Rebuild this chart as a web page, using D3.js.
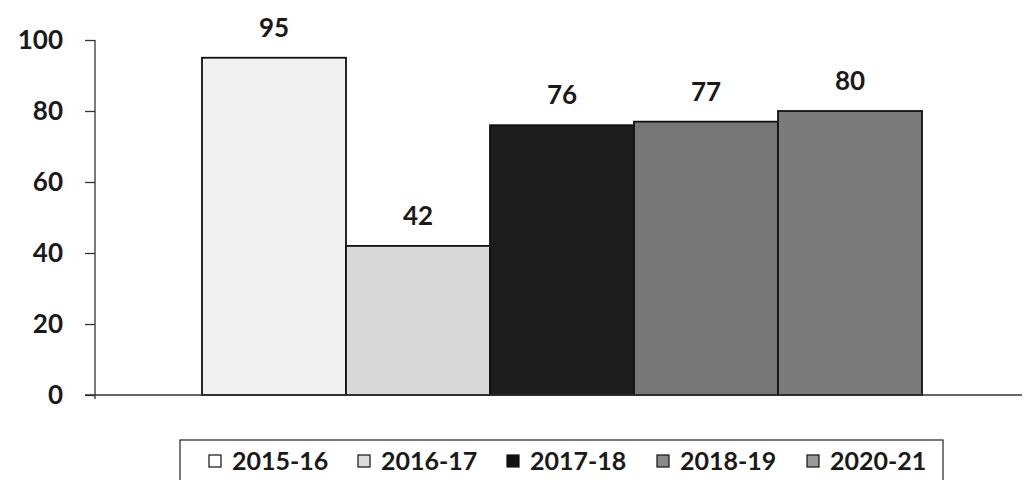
<!DOCTYPE html>
<html>
<head>
<meta charset="utf-8">
<script src="https://cdn.jsdelivr.net/npm/d3@7"></script>
<style>
  body { margin: 0; background: #fff; }
  text { font-family: Lato, "Open Sans", sans-serif; font-weight: bold; fill: #1a1a1a; }
</style>
</head>
<body>
<svg id="chart" width="1026" height="480"></svg>
<script>
// data
var years = ["2015-16", "2016-17", "2017-18", "2018-19", "2020-21"];
var values = [95, 42, 76, 77, 80];
var yTicks = [0, 20, 40, 60, 80, 100];
var fills = ["#f1f1f1", "#d9d9d9", "#1d1d1d", "#767676", "#7b7b7b"];
var legendFills = ["#ffffff", "#dcdcdc", "#111111", "#8a8a8a", "#9a9a9a"];

var svg = d3.select("#chart");

// plot area (window.top is reserved, so use a margin object)
var plot = {left: 95, right: 1022, top: 40, bottom: 395};

var y = d3.scaleLinear().domain([0, 100]).range([plot.bottom, plot.top]);

// single group of five bars, centred in the plot
var x = d3.scaleBand().domain(years).range([202, 922]).padding(0);

// y axis
var yaxis = d3.axisLeft(y).tickValues(yTicks).tickSize(10).tickPadding(22);
var gy = svg.append("g")
  .attr("transform", "translate(" + plot.left + ",0)")
  .call(yaxis);
gy.select(".domain").attr("stroke", "#333").attr("stroke-width", 1.3)
  .attr("d", "M0," + plot.top + "V" + (plot.bottom + 4));
gy.selectAll(".tick line").attr("stroke", "#333").attr("stroke-width", 1.3);
gy.selectAll(".tick text")
  .style("font-size", "26px")
  .attr("fill", "#1a1a1a");

// bars
svg.append("g").selectAll("rect")
  .data(values)
  .join("rect")
  .attr("x", function(d, i) { return x(years[i]); })
  .attr("y", function(d) { return y(d); })
  .attr("width", x.bandwidth())
  .attr("height", function(d) { return y(0) - y(d); })
  .attr("fill", function(d, i) { return fills[i]; })
  .attr("stroke", "#111")
  .attr("stroke-width", 1.8);

// x axis baseline
svg.append("line")
  .attr("x1", plot.left - 10).attr("x2", plot.right)
  .attr("y1", y(0)).attr("y2", y(0))
  .attr("stroke", "#333").attr("stroke-width", 1.5);

// value labels
svg.append("g").selectAll("text")
  .data(values)
  .join("text")
  .attr("x", function(d, i) { return x(years[i]) + x.bandwidth() / 2; })
  .attr("y", function(d) { return y(d) - 21; })
  .attr("text-anchor", "middle")
  .style("font-size", "26px")
  .text(function(d) { return d; });

// legend
var legend = svg.append("g");
legend.append("rect")
  .attr("x", 180).attr("y", 440)
  .attr("width", 763).attr("height", 45)
  .attr("fill", "#fff").attr("stroke", "#222").attr("stroke-width", 1.2);

var legendX = [209, 358, 507, 657, 807];
var items = legend.selectAll("g.item")
  .data(years)
  .join("g")
  .attr("class", "item")
  .attr("transform", function(d, i) { return "translate(" + legendX[i] + ",0)"; });
items.append("rect")
  .attr("x", 0).attr("y", 455)
  .attr("width", 12).attr("height", 12)
  .attr("fill", function(d, i) { return legendFills[i]; })
  .attr("stroke", "#111").attr("stroke-width", 1.2);
items.append("text")
  .attr("x", 23).attr("y", 470)
  .style("font-size", "25px")
  .text(function(d) { return d; });
</script>
</body>
</html>
